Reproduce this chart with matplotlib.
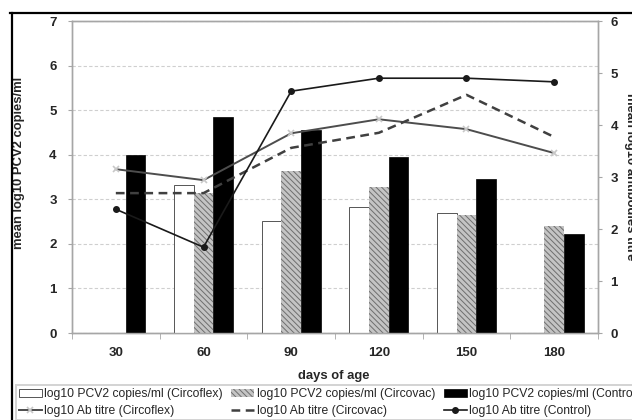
import numpy as np
import matplotlib
matplotlib.use("Agg")
import matplotlib.pyplot as plt
from matplotlib.lines import Line2D

plt.rcParams['font.family'] = ['Liberation Sans', 'DejaVu Sans']
plt.rcParams['hatch.linewidth'] = 0.7

# data
days = ['30', '60', '90', '120', '150', '180']
pcv2_circoflex = [np.nan, 3.33, 2.51, 2.82, 2.69, np.nan]
pcv2_circovac = [np.nan, 3.14, 3.64, 3.27, 2.64, 2.39]
pcv2_control = [4.0, 4.84, 4.56, 3.94, 3.45, 2.21]
ab_circoflex = [3.15, 2.94, 3.84, 4.11, 3.92, 3.46]
ab_circovac = [2.69, 2.69, 3.56, 3.85, 4.58, 3.77]
ab_control = [2.38, 1.65, 4.65, 4.90, 4.90, 4.83]

W, H = 632, 420
fig = plt.figure(figsize=(W / 100, H / 100), dpi=100)
ax = fig.add_axes([72 / W, 1 - 333 / H, 526 / W, 312 / H])
ax2 = ax.twinx()

x = np.arange(len(days))
bw = 0.225
grey = '#a6a6a6'
txt = '#262626'

b1 = ax.bar(x - bw, pcv2_circoflex, bw, facecolor='white', edgecolor='#555555',
            linewidth=0.7, label='log10 PCV2 copies/ml (Circoflex)', zorder=3)
b2 = ax.bar(x, pcv2_circovac, bw, facecolor='#c4c4c4', edgecolor='#6e6e6e',
            hatch='\\\\\\\\\\\\', linewidth=0, label='log10 PCV2 copies/ml (Circovac)', zorder=3)
b3 = ax.bar(x + bw, pcv2_control, bw, facecolor='black', edgecolor='black',
            linewidth=0.5, label='log10 PCV2 copies/ml (Control)', zorder=3)

l1, = ax2.plot(x, ab_circoflex, color='#4d4d4d', lw=1.4, marker='x', ms=5,
               mec='#c8c8c8', mew=1.2, label='log10 Ab titre (Circoflex)')
l2, = ax2.plot(x, ab_circovac, color='#404040', lw=1.8, ls=(0, (3.5, 2.2)),
               label='log10 Ab titre (Circovac)')
l3, = ax2.plot(x, ab_control, color='#1a1a1a', lw=1.2, marker='o', ms=4,
               label='log10 Ab titre (Control)')

ax.set_xlim(-0.5, len(days) - 0.5)
ax.set_ylim(0, 7)
ax2.set_ylim(0, 6)
ax.set_yticks(range(8))
ax2.set_yticks(range(7))
ax.set_xticks(x)
ax.set_xticklabels(days)
ax.set_xticks(np.arange(-0.5, len(days)), minor=True)

ax.grid(axis='y', color='#cfcfcf', lw=0.8, ls=(0, (3, 2)), zorder=0)
ax.set_axisbelow(True)

for a in (ax, ax2):
    for s in a.spines.values():
        s.set_color(grey)
        s.set_linewidth(1.0)
ax.tick_params(axis='y', length=3, color=grey, labelsize=9.5, labelcolor=txt, pad=8)
ax2.tick_params(axis='y', length=3, color=grey, labelsize=9.5, labelcolor=txt, pad=6)
ax.tick_params(axis='x', which='major', length=0, labelsize=9.5, labelcolor=txt, pad=10)
ax.tick_params(axis='x', which='minor', length=4, color=grey)
for lab in ax.get_xticklabels() + ax.get_yticklabels() + ax2.get_yticklabels():
    lab.set_fontweight('bold')

ax.set_ylabel('mean log10 PCV2 copies/ml', fontsize=9.4, fontweight='bold', color=txt)
ax.yaxis.set_label_coords(-0.089, 0.545)
ax2.set_ylabel('mean log10 antibodies titre', fontsize=9.4, fontweight='bold',
               color=txt, rotation=270, va='center')
ax2.yaxis.set_label_coords(1.06, 0.5)
ax.set_xlabel('days of age', fontsize=9.4, fontweight='bold', color=txt)
ax.xaxis.set_label_coords(0.498, -0.12)

# outer chart frame (only top and left edges visible in the crop)
fig.add_artist(Line2D([10 / W, 1], [1 - 13 / H] * 2, color='black', lw=1.6))
fig.add_artist(Line2D([12 / W] * 2, [0, 1 - 13 / H], color='black', lw=1.6))

handles = [b1, l1, b2, l2, b3, l3]
leg = fig.legend(handles, [h.get_label() for h in handles], ncol=3,
                 loc='upper left', bbox_to_anchor=(16 / W, 1 - 385 / H),
                 fontsize=8.7, frameon=True, fancybox=False, edgecolor='#c8c8c8',
                 borderaxespad=0, borderpad=0.25, handlelength=1.9,
                 handletextpad=0.2, columnspacing=0.7, labelspacing=0.45)
leg.get_frame().set_linewidth(1.4)
for t in leg.get_texts():
    t.set_color(txt)

fig.savefig('out.png', dpi=100)
